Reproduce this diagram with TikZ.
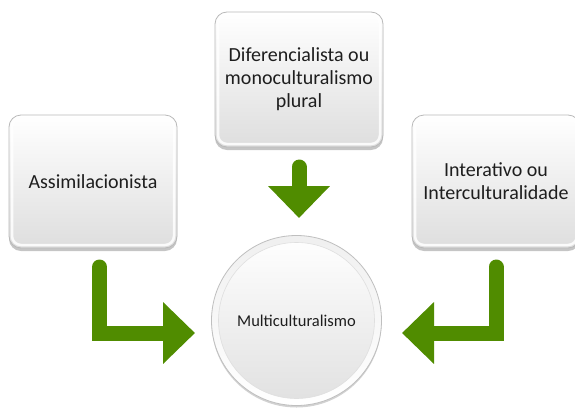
\documentclass[tikz,border=0pt]{standalone}
\usepackage{fontspec}
\setmainfont{Carlito}
\usetikzlibrary{arrows.meta,shadows}
\definecolor{arrowgreen}{RGB}{80,140,0}
\definecolor{txt}{RGB}{30,30,30}
\begin{document}
\begin{tikzpicture}[x=1pt,y=-1pt,
  box/.style={rectangle, rounded corners=12pt, draw=gray!55, line width=0.8pt,
    top color=white, bottom color=gray!26, minimum width=168pt, minimum height=133pt,
    align=center, font=\fontsize{20}{23}\selectfont, text=txt,
    path picture={\draw[white, line width=2.5pt, opacity=0.85, rounded corners=9pt]
      ([xshift=3pt,yshift=-3pt]path picture bounding box.north west) rectangle
      ([xshift=-3pt,yshift=3pt]path picture bounding box.south east);},
    drop shadow={shadow xshift=0pt, shadow yshift=-3pt, opacity=0.45, fill=gray}},
  hub/.style={circle, draw=gray!50, line width=0.8pt, top color=gray!12, bottom color=white,
    minimum size=170pt, inner sep=0pt, font=\fontsize{16.5}{20}\selectfont, text=txt,
    path picture={\shade[top color=white, bottom color=gray!24, draw=gray!25, line width=0.6pt]
      (path picture bounding box.center) circle (78pt);},
    drop shadow={shadow xshift=0pt, shadow yshift=-2pt, opacity=0.35, fill=gray}},
  flow/.style={draw=arrowgreen, line width=15pt, line cap=round, line join=miter,
    -{Triangle[width=60pt,length=32pt]}}]
\clip (0,0) rectangle (575,407);
\fill[white] (0,0) rectangle (575,407);
\node[box] (assim) at (93,181.5) {Assimilacionista};
\node[box, minimum height=135pt] (difer) at (299,79.5) {Diferencialista ou\\monoculturalismo\\plural};
\node[box] (inter) at (496,181.5) {Interativo ou\\Interculturalidade};
\node[hub] (multi) at (296.5,320.5) {Multiculturalismo};
\coordinate (aStart) at (99.5,267);
\coordinate (aTip) at (195,333);
\coordinate (iStart) at (496,267);
\coordinate (iTip) at (402,333);
\coordinate (dStart) at (299,167);
\coordinate (dTip) at (299,218);
\draw[flow] (aStart) |- (aTip);
\draw[flow] (iStart) |- (iTip);
\draw[flow] (dStart) -- (dTip);
\end{tikzpicture}
\end{document}
